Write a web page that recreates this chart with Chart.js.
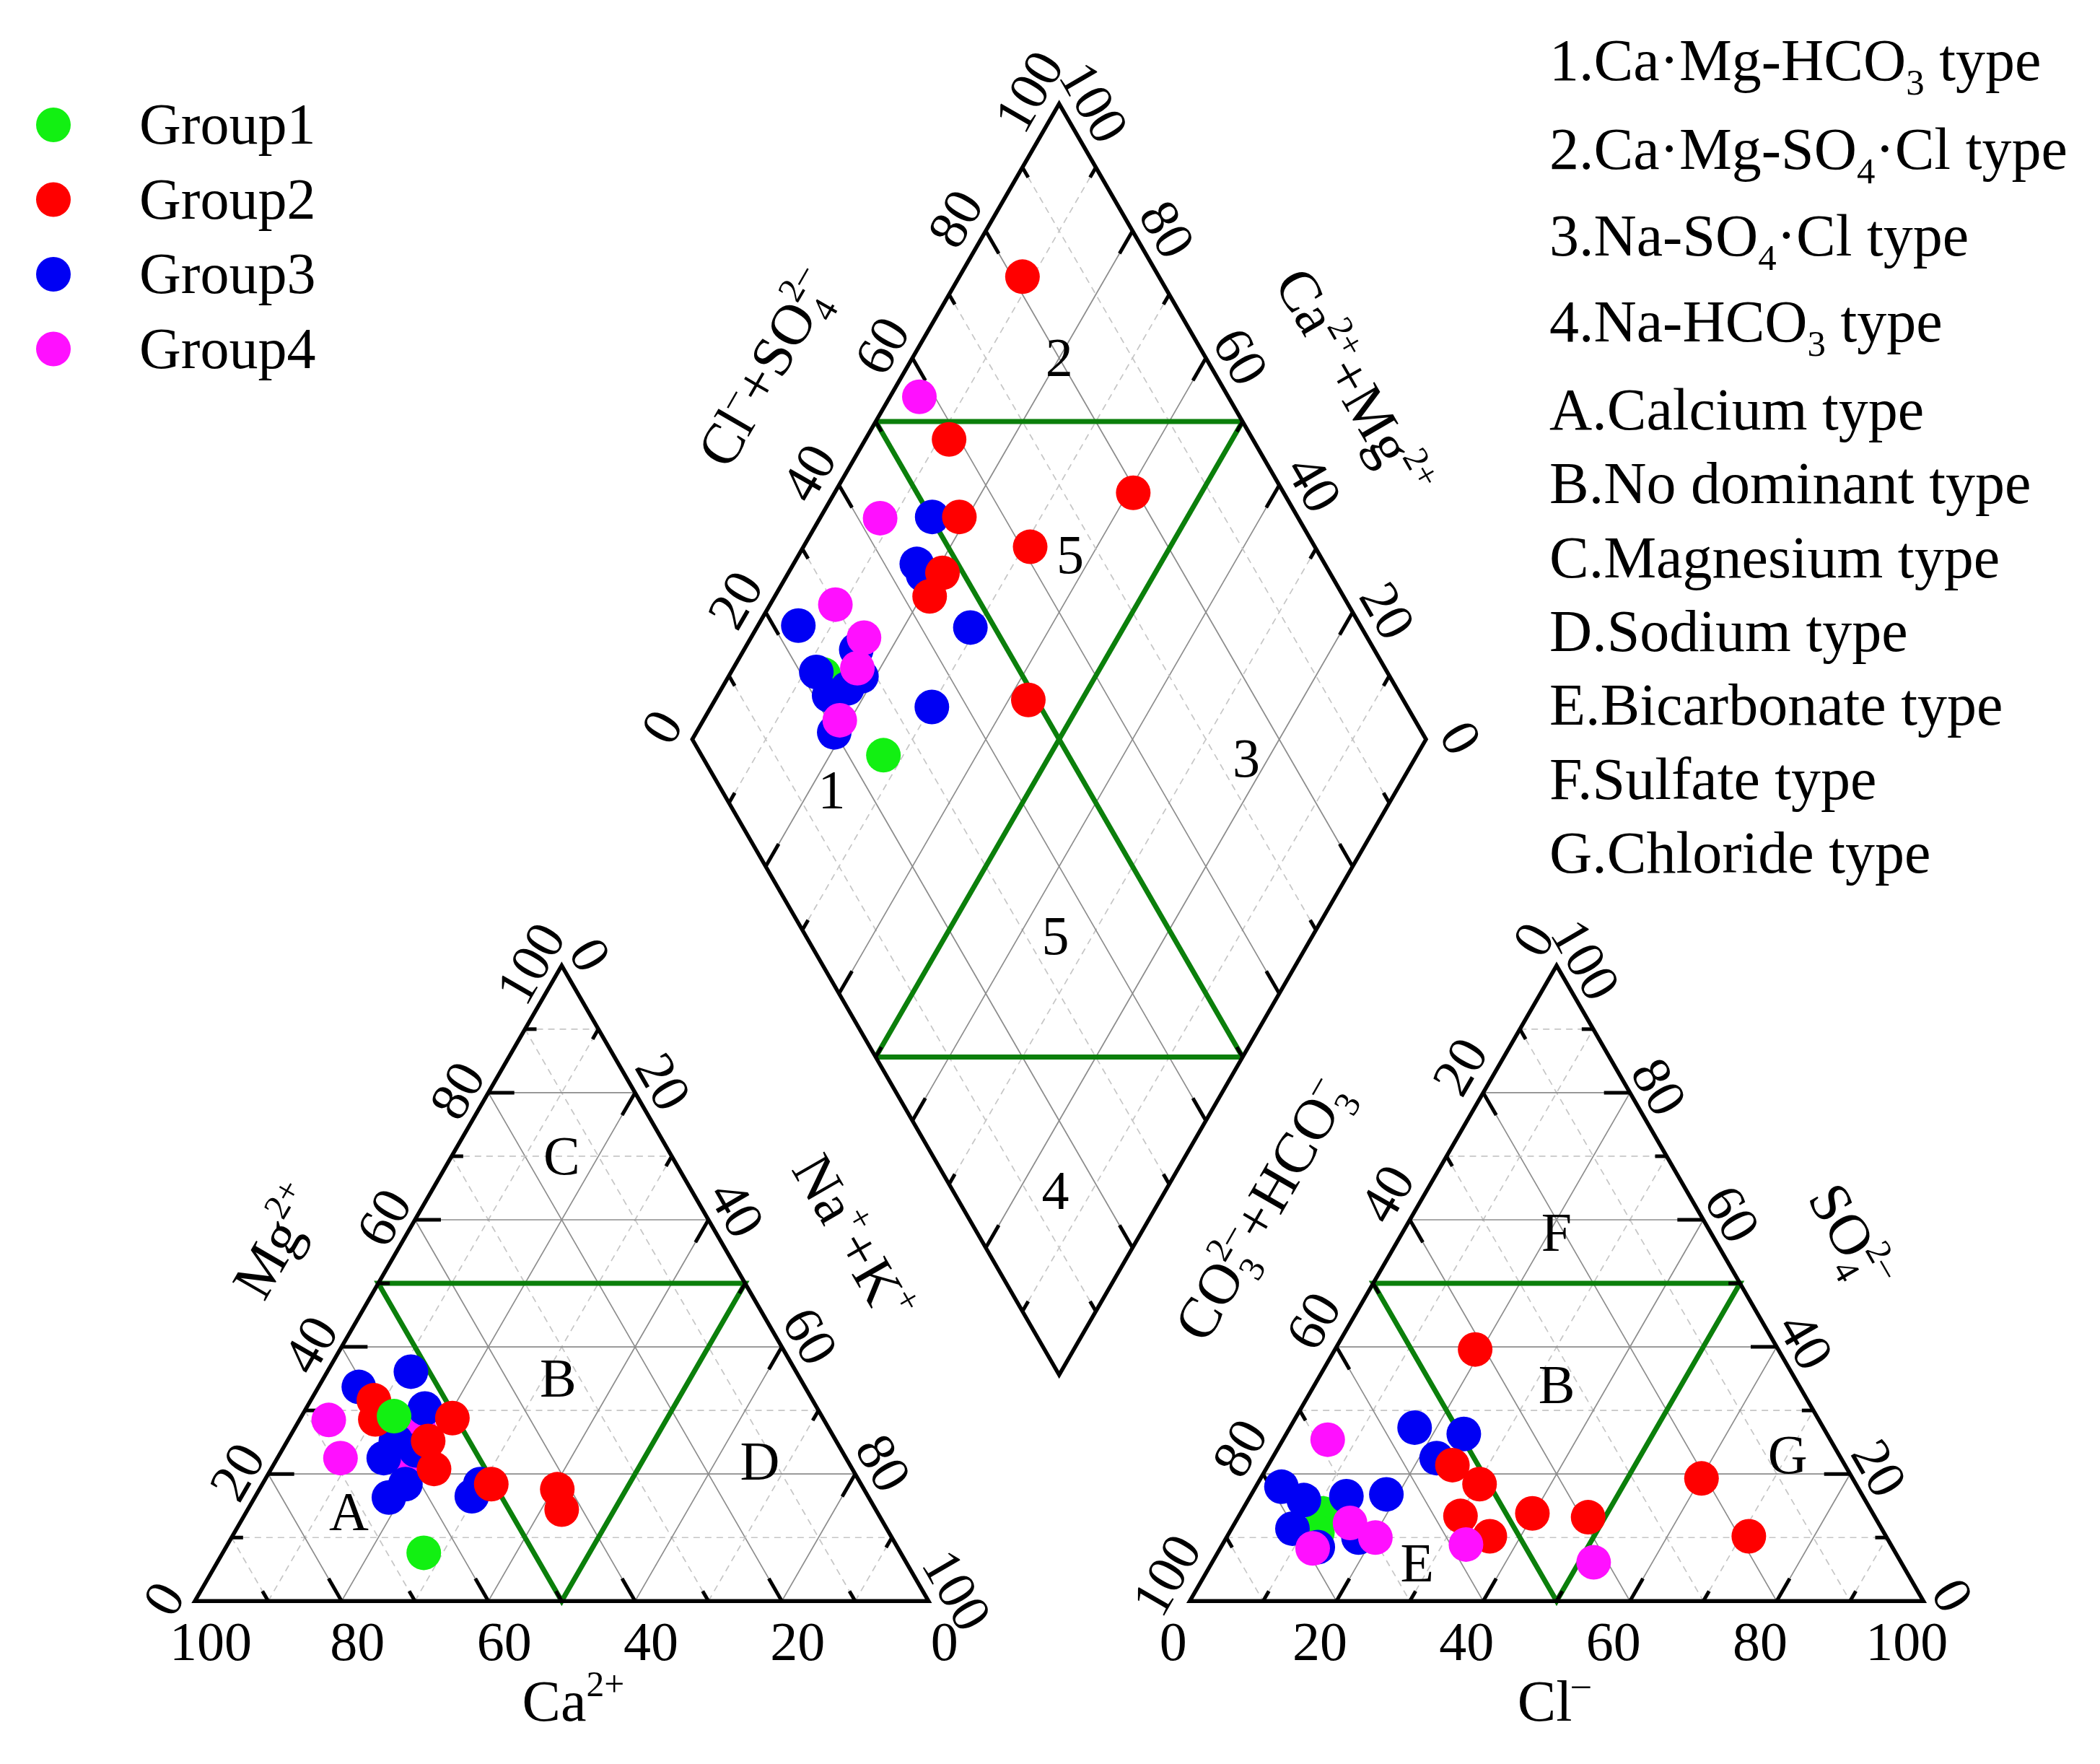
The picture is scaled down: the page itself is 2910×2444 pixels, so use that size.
<!DOCTYPE html>
<html>
<head>
<meta charset="utf-8">
<script src="https://cdn.jsdelivr.net/npm/chart.js@4.4.1/dist/chart.umd.min.js"></script>
<style>
  html, body { margin: 0; padding: 0; background: #fff; }
  canvas { display: block; }
</style>
</head>
<body>
<canvas id="piper" width="2910" height="2444"></canvas>
<script>
// ---- data (percent of meq) ----
const groupNames = ['Group1', 'Group2', 'Group3', 'Group4'];

// cation triangle: [Ca2+, Mg2+, Na+ + K+]
const cationG1 = [[58.3, 29.1, 12.6], [65.0, 7.6, 27.4]];
const cationG2 = [[59.8, 31.6, 8.6], [61.1, 28.6, 10.3], [50.5, 28.8, 20.7], [55.6, 25.2, 19.2],
                  [57.0, 20.8, 22.2], [50.4, 18.4, 31.2], [41.8, 17.6, 40.6], [42.8, 14.4, 42.8]];
const cationG3 = [[52.5, 36.1, 11.4], [60.8, 33.7, 5.5], [53.5, 30.3, 16.2], [60.0, 25.2, 14.8],
                  [63.0, 22.5, 14.5], [58.0, 23.7, 18.3], [62.1, 18.4, 19.5], [65.4, 16.3, 18.3],
                  [54.0, 16.5, 29.5], [51.9, 18.4, 29.7]];
const cationG4 = [[67.5, 28.5, 4.0], [68.9, 22.5, 8.6], [60.3, 21.0, 18.7], [55.9, 27.1, 17.0]];

// anion triangle: [CO3 2- + HCO3-, SO4 2-, Cl-]
const anionG1 = [[75.0, 13.8, 11.2], [77.2, 10.8, 12.0]];
const anionG2 = [[41.3, 39.6, 19.1], [53.5, 21.4, 25.1], [51.3, 18.4, 30.3], [56.4, 13.4, 30.2],
                 [54.0, 10.2, 35.8], [46.4, 13.8, 39.8], [39.1, 13.2, 47.7], [20.6, 19.3, 60.1],
                 [18.7, 10.2, 71.1]];
const anionG3 = [[55.7, 27.3, 17.0], [49.5, 26.3, 24.2], [55.1, 22.5, 22.4], [78.5, 18.0, 3.5],
                 [76.5, 15.9, 7.6], [70.4, 16.5, 13.1], [64.8, 16.8, 18.4], [80.3, 11.4, 8.3],
                 [72.0, 10.0, 18.0], [78.3, 8.5, 13.2]];
const anionG4 = [[68.5, 25.4, 6.1], [72.0, 12.3, 15.7], [69.7, 10.0, 20.3], [79.1, 8.3, 12.6],
                 [57.9, 8.9, 33.2], [41.9, 6.1, 52.0]];

// diamond: [Cl- + SO4 2-, Ca2+ + Mg2+]
const diamondG1 = [[23.0, 87.2], [24.8, 72.7]];
const diamondG2 = [[81.4, 91.4], [58.6, 88.6], [53.9, 81.1], [79.5, 59.3], [61.2, 69.1],
                   [47.2, 79.0], [43.6, 78.9], [48.9, 57.3]];
const diamondG3 = [[50.2, 84.8], [44.4, 83.2], [44.4, 81.5], [46.7, 70.9], [23.4, 94.5],
                   [29.4, 84.7], [22.2, 88.4], [28.0, 81.9], [22.1, 84.8], [25.1, 82.9],
                   [35.2, 69.9], [19.9, 81.2]];
const diamondG4 = [[57.9, 96.0], [43.0, 91.8], [30.1, 91.1], [31.4, 84.6], [28.1, 83.1], [21.6, 81.4]];

const tickValues = [0, 20, 40, 60, 80, 100];
const typeNotes = [
  [['1.Ca·Mg-HCO', ''], ['3', 'sub'], [' type', '']],
  [['2.Ca·Mg-SO', ''], ['4', 'sub'], ['·Cl type', '']],
  [['3.Na-SO', ''], ['4', 'sub'], ['·Cl type', '']],
  [['4.Na-HCO', ''], ['3', 'sub'], [' type', '']],
  [['A.Calcium type', '']],
  [['B.No dominant type', '']],
  [['C.Magnesium type', '']],
  [['D.Sodium type', '']],
  [['E.Bicarbonate type', '']],
  [['F.Sulfate type', '']],
  [['G.Chloride type', '']]
];

// ---- layout ----
const W = 2910, H = 2444;
const PX = 10.167;            // pixels per percent
const X0 = 270, Y0 = 2218.3;  // left triangle, bottom-left corner
const GAP = 35.6;
const RX = 100 + GAP;
const S3 = Math.sqrt(3) / 2;
const BX = 100 + GAP / 2, BY = GAP / 2 * Math.sqrt(3);
const colors = ['#12f012', '#ff0000', '#0000f4', '#ff10ff'];
const FONT = '"Liberation Serif", "Times New Roman", serif';

const cat = (ca, mg, na) => ({ x: na + mg / 2, y: mg * S3 });
const ani = (hc, so, cl) => ({ x: RX + cl + so / 2, y: so * S3 });
const dia = (u, v) => ({ x: BX + (u - v) / 2, y: BY + (u + v) * S3 });

const cationSets = [cationG1, cationG2, cationG3, cationG4];
const anionSets = [anionG1, anionG2, anionG3, anionG4];
const diamondSets = [diamondG1, diamondG2, diamondG3, diamondG4];

const datasets = [];
function addSet(g, pts) {
  datasets.push({
    label: groupNames[g], data: pts, backgroundColor: colors[g],
    pointRadius: 24, pointHoverRadius: 24, borderWidth: 0, pointBorderWidth: 0
  });
}
[0, 1, 2, 3].forEach(g => addSet(g, cationSets[g].map(r => cat(r[0], r[1], r[2]))));
[3, 1, 2, 0].forEach(g => addSet(g, anionSets[g].map(r => ani(r[0], r[1], r[2]))));
[1, 3, 2, 0].forEach(g => addSet(g, diamondSets[g].map(r => dia(r[0], r[1]))));

function richText(ctx, x, y, rot, parts, size, align) {
  ctx.save();
  ctx.translate(x, y);
  ctx.rotate(rot * Math.PI / 180);
  const small = size * 0.62;
  const items = [];
  let cx = 0, lastSub = null;
  for (const [t, m] of parts) {
    const fs = m ? small : size;
    ctx.font = fs + 'px ' + FONT;
    const w = ctx.measureText(t).width;
    let px = cx;
    if (m === 'sup' && lastSub !== null) { px = lastSub; cx = Math.max(cx, px + w); }
    else cx += w;
    items.push({ t, m, fs, x: px });
    lastSub = m === 'sub' ? px : null;
  }
  const start = align === 'left' ? 0 : -cx / 2;
  ctx.textAlign = 'left';
  ctx.textBaseline = 'alphabetic';
  ctx.fillStyle = '#000';
  for (const it of items) {
    ctx.font = it.fs + 'px ' + FONT;
    const dy = it.m === 'sup' ? -size * 0.42 : it.m === 'sub' ? size * 0.24 : 0;
    ctx.fillText(it.t, start + it.x, size * 0.33 + dy);
  }
  ctx.restore();
}

const piperFrame = {
  id: 'piperFrame',
  beforeDatasetsDraw(chart) {
    const ctx = chart.ctx;
    const xs = chart.scales.x, ys = chart.scales.y;
    const P = p => [xs.getPixelForValue(p.x), ys.getPixelForValue(p.y)];
    const seg = (a, b) => {
      const pa = P(a), pb = P(b);
      ctx.beginPath(); ctx.moveTo(pa[0], pa[1]); ctx.lineTo(pb[0], pb[1]); ctx.stroke();
    };
    const poly = pts => {
      ctx.beginPath();
      pts.forEach((p, i) => { const q = P(p); i ? ctx.lineTo(q[0], q[1]) : ctx.moveTo(q[0], q[1]); });
      ctx.closePath(); ctx.stroke();
    };

    ctx.save();
    // grid
    for (let k = 10; k < 100; k += 10) {
      const major = k % 20 === 0;
      ctx.setLineDash(major ? [] : [9, 7]);
      ctx.strokeStyle = major ? '#8c8c8c' : '#c6c6c6';
      ctx.lineWidth = 1.7;
      seg(cat(100 - k, k, 0), cat(0, k, 100 - k));
      seg(cat(100 - k, 0, k), cat(0, 100 - k, k));
      seg(cat(k, 100 - k, 0), cat(k, 0, 100 - k));
      seg(ani(100 - k, k, 0), ani(0, k, 100 - k));
      seg(ani(100 - k, 0, k), ani(0, 100 - k, k));
      seg(ani(k, 100 - k, 0), ani(k, 0, 100 - k));
      seg(dia(k, 0), dia(k, 100));
      seg(dia(0, k), dia(100, k));
    }
    ctx.setLineDash([]);

    // region boundaries
    ctx.strokeStyle = '#0b7f0b';
    ctx.lineWidth = 7;
    ctx.lineJoin = 'miter';
    poly([cat(50, 50, 0), cat(0, 50, 50), cat(50, 0, 50)]);
    poly([ani(50, 50, 0), ani(0, 50, 50), ani(50, 0, 50)]);
    seg(dia(50, 100), dia(100, 50));
    seg(dia(0, 50), dia(50, 0));
    seg(dia(50, 100), dia(50, 0));
    seg(dia(100, 50), dia(0, 50));

    // ticks
    ctx.strokeStyle = '#000';
    ctx.lineWidth = 5;
    const tick = (p, dx, dy, k) => {
      const q = P(p), len = k % 20 === 0 ? 36 : 16;
      ctx.beginPath(); ctx.moveTo(q[0], q[1]); ctx.lineTo(q[0] + dx * len, q[1] + dy * len); ctx.stroke();
    };
    for (let k = 10; k < 100; k += 10) {
      tick(cat(100 - k, k, 0), 1, 0, k);
      tick(cat(0, 100 - k, k), -0.5, S3, k);
      tick(cat(k, 0, 100 - k), -0.5, -S3, k);
      tick(ani(k, 100 - k, 0), 0.5, S3, k);
      tick(ani(0, k, 100 - k), -1, 0, k);
      tick(ani(100 - k, 0, k), 0.5, -S3, k);
      tick(dia(k, 100), 0.5, S3, k);
      tick(dia(100, k), -0.5, S3, k);
      tick(dia(0, k), 0.5, -S3, k);
      tick(dia(k, 0), -0.5, -S3, k);
    }

    // outlines
    ctx.lineWidth = 5.5;
    poly([cat(100, 0, 0), cat(0, 100, 0), cat(0, 0, 100)]);
    poly([ani(100, 0, 0), ani(0, 100, 0), ani(0, 0, 100)]);
    poly([dia(0, 0), dia(100, 0), dia(100, 100), dia(0, 100)]);

    // tick labels
    const lab = (p, ox, oy, rot, txt) => {
      const q = P(p);
      richText(ctx, q[0] + ox, q[1] + oy, rot, [[String(txt), '']], 76);
    };
    tickValues.forEach(t => {
      lab(cat(100 - t, t, 0), -43, -3, -60, t);
      lab(cat(0, 100 - t, t), 39, -15, 60, t);
      lab(cat(t, 0, 100 - t), 22, 57, 0, t);
      lab(ani(t, 100 - t, 0), -32, -36, -60, t);
      lab(ani(0, t, 100 - t), 40, -8, 60, t);
      lab(ani(100 - t, 0, t), -23, 57, 0, t);
      lab(dia(t, 100), -42, -17, -60, t);
      lab(dia(100, t), 48, -2, 60, t);
    });

    // axis titles
    const title = (p, ox, oy, rot, parts) => {
      const q = P(p);
      richText(ctx, q[0] + ox, q[1] + oy, rot, parts, 80);
    };
    title(cat(52, 48, 0), -130, -75, -60, [['Mg', ''], ['2+', 'sup']]);
    title(cat(0, 48, 52), 139, -80, 60, [['Na', ''], ['+', 'sup'], ['+K', ''], ['+', 'sup']]);
    title(cat(50, 0, 50), 16, 139, 0, [['Ca', ''], ['2+', 'sup']]);
    title(ani(49, 51, 0), -160, -92, -60,
      [['CO', ''], ['3', 'sub'], ['2–', 'sup'], ['+HCO', ''], ['3', 'sub'], ['–', 'sup']]);
    title(ani(0, 48, 52), 143, -83, 60, [['SO', ''], ['4', 'sub'], ['2–', 'sup']]);
    title(ani(50, 0, 50), -4, 139, 0, [['Cl', ''], ['–', 'sup']]);
    title(dia(48.8, 100), -146, -84, -60, [['Cl', ''], ['–', 'sup'], ['+SO', ''], ['4', 'sub'], ['2–', 'sup']]);
    title(dia(100, 47), 138, -80, 60, [['Ca', ''], ['2+', 'sup'], ['+Mg', ''], ['2+', 'sup']]);

    // region letters
    const reg = (p, txt) => { const q = P(p); richText(ctx, q[0], q[1], 0, [[txt, '']], 76); };
    reg(cat(15, 70, 15), 'C'); reg(cat(33, 35, 32), 'B'); reg(cat(72, 14, 14), 'A'); reg(cat(12, 22, 66), 'D');
    reg(ani(21, 58, 21), 'F'); reg(ani(33, 34, 33), 'B'); reg(ani(66, 6, 28), 'E'); reg(ani(7, 23, 70), 'G');
    reg(dia(80, 80), '2'); reg(dia(66, 63), '5'); reg(dia(15, 77), '1');
    reg(dia(74, 23), '3'); reg(dia(34, 35), '5'); reg(dia(14, 15), '4');
    ctx.restore();
  },
  afterDraw(chart) {
    const ctx = chart.ctx;
    ctx.save();
    // group legend
    groupNames.forEach((name, i) => {
      const y = 173 + i * 103.5;
      ctx.fillStyle = colors[i];
      ctx.beginPath(); ctx.arc(74, y, 24, 0, Math.PI * 2); ctx.fill();
      richText(ctx, 193, y, 0, [[name, '']], 80, 'left');
    });
    // water type notes
    const noteY = [84, 207, 327, 446, 568, 670, 773, 875, 977, 1080, 1182];
    typeNotes.forEach((parts, i) => richText(ctx, 2147, noteY[i], 0, parts, 82, 'left'));
    ctx.restore();
  }
};

new Chart(document.getElementById('piper'), {
  type: 'scatter',
  data: { datasets },
  options: {
    responsive: false,
    animation: false,
    devicePixelRatio: 1,
    layout: { padding: 0, autoPadding: false },
    events: [],
    scales: {
      x: { type: 'linear', min: -X0 / PX, max: (W - X0) / PX, display: false },
      y: { type: 'linear', min: -(H - Y0) / PX, max: Y0 / PX, display: false }
    },
    plugins: { legend: { display: false }, tooltip: { enabled: false } }
  },
  plugins: [piperFrame]
});
</script>
</body>
</html>
